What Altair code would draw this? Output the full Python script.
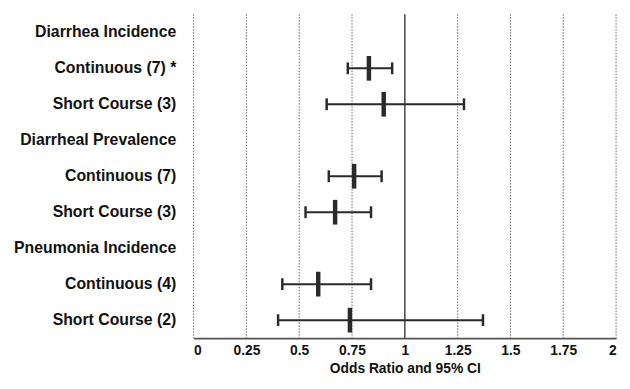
import altair as alt
import pandas as pd

# Row labels (top to bottom)
row_labels = [
    "Diarrhea Incidence",
    "Continuous  (7) *",
    "Short Course (3)",
    "Diarrheal Prevalence",
    "Continuous (7)",
    "Short Course (3)",
    "Pneumonia Incidence",
    "Continuous (4)",
    "Short Course (2)",
]
# Data rows (index into row_labels)
data_rows = [1, 2, 4, 5, 7, 8]
odds_ratio = [0.83, 0.90, 0.76, 0.67, 0.59, 0.74]
ci_low = [0.73, 0.63, 0.64, 0.53, 0.42, 0.40]
ci_high = [0.94, 1.28, 0.89, 0.84, 0.84, 1.37]

# x ticks / dotted gridlines
x_ticks = [0, 0.25, 0.5, 0.75, 1, 1.25, 1.5, 1.75, 2]
dotted_grid = [0, 0.25, 0.5, 0.75, 1.25, 1.5, 1.75, 2]
ref_line = [1]

df = pd.DataFrame({"row": data_rows, "or": odds_ratio, "lo": ci_low, "hi": ci_high})
grid_df = pd.DataFrame({"x": dotted_grid})
ref_df = pd.DataFrame({"x": ref_line})

label_expr = "[" + ",".join("'" + s + "'" for s in row_labels) + "][datum.value]"

FONT = "Liberation Sans"
DARK = "#2a2a2a"

xscale = alt.Scale(domain=[0, 2], nice=False, zero=False)
yscale = alt.Scale(domain=list(range(len(row_labels))), paddingInner=0, paddingOuter=0)

x_axis = alt.Axis(
    values=x_ticks,
    labelExpr="format(datum.value, '')",
    grid=False,
    ticks=False,
    domain=True,
    domainColor="#555555",
    domainWidth=2,
    labelFont=FONT,
    labelFontWeight="bold",
    labelFontSize=14,
    labelColor="#111111",
    labelPadding=6,
    title="Odds Ratio and 95% CI",
    titleFont=FONT,
    titleFontWeight="bold",
    titleFontSize=14,
    titleColor="#111111",
    titlePadding=4,
)
y_axis = alt.Axis(
    labelExpr=label_expr,
    grid=False,
    ticks=False,
    domain=False,
    labelFont=FONT,
    labelFontWeight="bold",
    labelFontSize=16,
    labelColor="#111111",
    labelPadding=18,
    title=None,
)

grid = alt.Chart(grid_df).mark_rule(color="#666666", strokeWidth=1, strokeDash=[1.5, 1.5]).encode(
    x=alt.X("x:Q", scale=xscale, axis=x_axis)
)
ref = alt.Chart(ref_df).mark_rule(color="#444444", strokeWidth=1.5).encode(
    x=alt.X("x:Q", scale=xscale)
)

base = alt.Chart(df).encode(
    y=alt.Y("row:O", scale=yscale, axis=y_axis, sort=None)
)
ci = base.mark_rule(color=DARK, strokeWidth=2).encode(
    x=alt.X("lo:Q", scale=xscale), x2="hi:Q"
)
cap_lo = base.mark_tick(color=DARK, size=12, thickness=2.5, opacity=1).encode(
    x=alt.X("lo:Q", scale=xscale)
)
cap_hi = base.mark_tick(color=DARK, size=12, thickness=2.5, opacity=1).encode(
    x=alt.X("hi:Q", scale=xscale)
)
pt = base.mark_tick(color=DARK, size=25, thickness=4.5, opacity=1).encode(
    x=alt.X("or:Q", scale=xscale)
)

chart = alt.layer(grid, ref, ci, cap_lo, cap_hi, pt).properties(
    width=428,
    height=328,
    autosize=alt.AutoSizeParams(type="none"),
    padding={"left": 188, "top": 4, "right": 6, "bottom": 41},
    background="white",
).configure_view(stroke=None)

chart.save("out.html", embed_options={"renderer": "svg", "actions": False})
